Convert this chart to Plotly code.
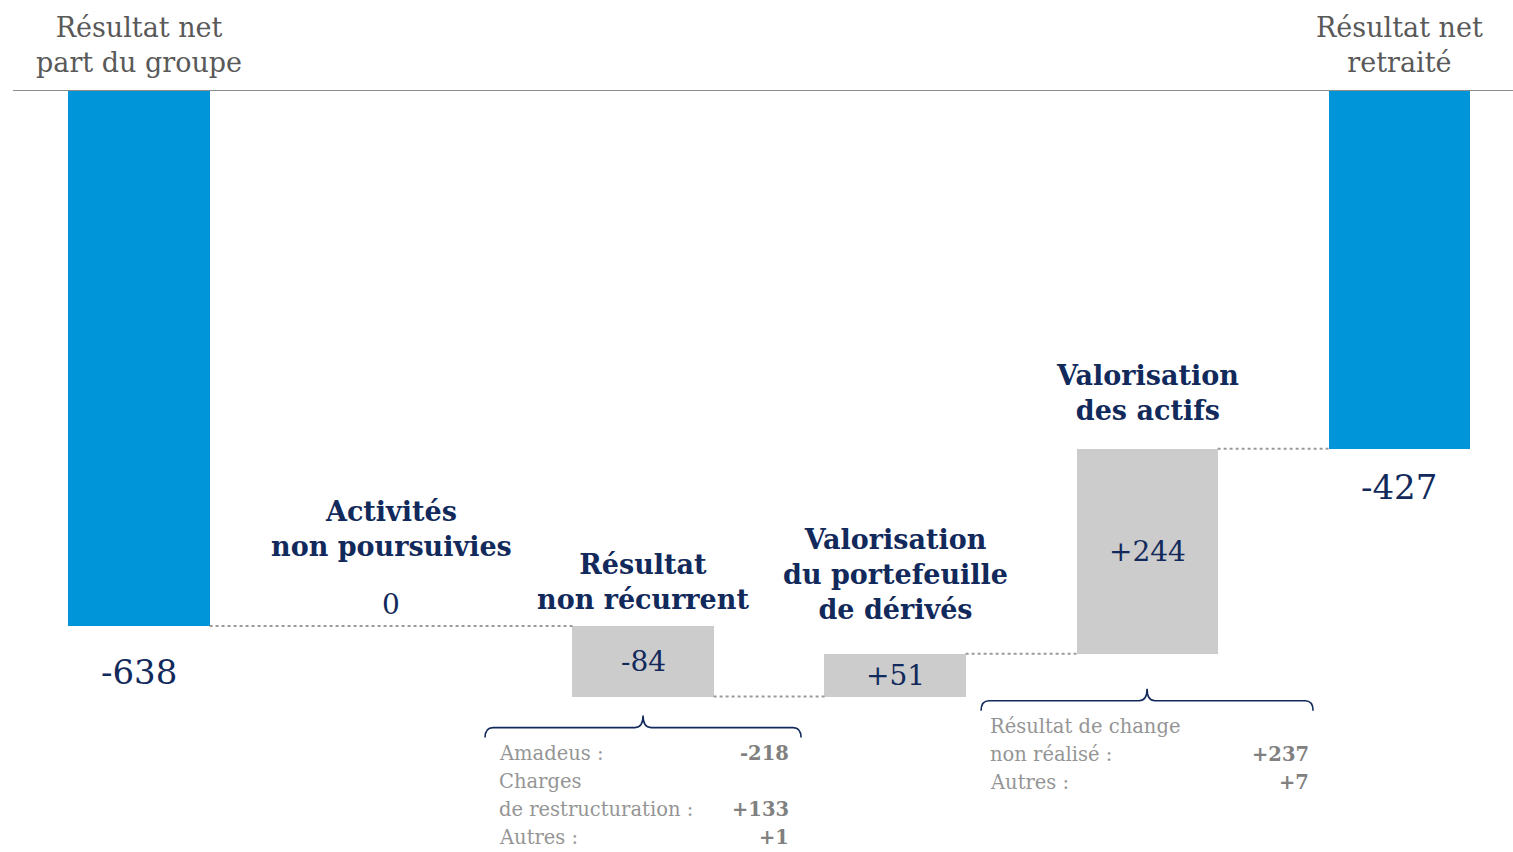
import plotly.graph_objects as go

# ---- data ----
categories = [
    "Résultat net<br>part du groupe",
    "Activités<br>non poursuivies",
    "Résultat<br>non récurrent",
    "Valorisation<br>du portefeuille<br>de dérivés",
    "Valorisation<br>des actifs",
    "Résultat net<br>retraité",
]
measures = ["total", "relative", "relative", "relative", "relative", "total"]
values = [-638, 0, -84, 51, 244, -427]
value_labels = ["-638", "0", "-84", "+51", "+244", "-427"]

recurrent_detail_labels = ["Amadeus :", "Charges", "de restructuration :", "Autres :"]
recurrent_detail_values = ["-218", "", "+133", "+1"]
actifs_detail_labels = ["Résultat de change", "non réalisé :", "Autres :"]
actifs_detail_values = ["", "+237", "+7"]

# ---- styling ----
BLUE = "#0094d9"
GREY_BAR = "#cccccc"
NAVY = "#12295b"
HEAD_GREY = "#595959"
NOTE_GREY = "#959595"
NOTE_NUM = "#808080"
FONT = "DejaVu Serif"

W, H = 1513, 852
M_L, M_R, M_T, M_B = 13, 0, 90, 0
X_RANGE = [-0.5, 5.452]
Y_RANGE = [-907, 0]
BAR_W = 0.56

# vertical gap (px) between the top of each step bar and its caption
CAPTION_GAP = [0, 62, 9, 27, 21, 0]
# vertical gap (px) between the bottom of each total bar and its value
VALUE_GAP = [24, 0, 0, 0, 0, 16]
NOTE_LINE = 28  # line spacing of the detail notes, px

plot_w = W - M_L - M_R
plot_h = H - M_T - M_B
DX = (X_RANGE[1] - X_RANGE[0]) / plot_w   # data units per pixel, x
DY = (Y_RANGE[1] - Y_RANGE[0]) / plot_h   # data units per pixel, y

# ---- waterfall geometry ----
bases, ends = [], []
running = 0
for m, v in zip(measures, values):
    if m == "total":
        b, e = 0, v
    else:
        b, e = running, running + v
    bases.append(b)
    ends.append(e)
    running = e
heights = [e - b for b, e in zip(bases, ends)]
colors = [BLUE if m == "total" else GREY_BAR for m in measures]
idx = list(range(len(values)))

fig = go.Figure()
fig.add_trace(go.Bar(
    x=idx, y=heights, base=bases, width=BAR_W,
    marker=dict(color=colors, line=dict(width=0)),
    hoverinfo="skip", showlegend=False,
))

# dotted connectors between consecutive visible bars
visible = [i for i in idx if heights[i] != 0]
cx, cy = [], []
for a, b in zip(visible[:-1], visible[1:]):
    cx += [a + BAR_W / 2, b - BAR_W / 2, None]
    cy += [ends[a], ends[a], None]
fig.add_trace(go.Scatter(
    x=cx, y=cy, mode="lines",
    line=dict(color="#9a9a9a", width=2, dash="dot"),
    hoverinfo="skip", showlegend=False,
))

ann = []
for i in idx:
    top = max(bases[i], ends[i])
    bottom = min(bases[i], ends[i])
    if measures[i] == "total":
        # header above the baseline, value under the bar
        ann.append(dict(x=i, y=1, xref="x", yref="paper", yanchor="bottom", yshift=10,
                        text=categories[i], showarrow=False,
                        font=dict(family=FONT, size=27, color=HEAD_GREY)))
        ann.append(dict(x=i, y=bottom, xref="x", yref="y", yanchor="top", yshift=-VALUE_GAP[i],
                        text=value_labels[i], showarrow=False,
                        font=dict(family=FONT, size=34, color=NAVY)))
    elif heights[i] == 0:
        ann.append(dict(x=i, y=top, xref="x", yref="y", yanchor="bottom", yshift=3,
                        text=value_labels[i], showarrow=False,
                        font=dict(family=FONT, size=28, color=NAVY)))
        ann.append(dict(x=i, y=top, xref="x", yref="y", yanchor="bottom", yshift=CAPTION_GAP[i],
                        text="<b>" + categories[i] + "</b>", showarrow=False,
                        font=dict(family=FONT, size=27, color=NAVY)))
    else:
        ann.append(dict(x=i, y=(bases[i] + ends[i]) / 2, xref="x", yref="y",
                        text=value_labels[i], showarrow=False,
                        font=dict(family=FONT, size=28, color=NAVY)))
        ann.append(dict(x=i, y=top, xref="x", yref="y", yanchor="bottom", yshift=CAPTION_GAP[i],
                        text="<b>" + categories[i] + "</b>", showarrow=False,
                        font=dict(family=FONT, size=27, color=NAVY)))


def brace_path(xc, half, y, drop=10, notch=12, r=8):
    """Curly-brace path (opening downward) in data coordinates; sizes in px."""
    xl, xr = xc - half * DX, xc + half * DX
    p = f"M {xl},{y - drop*DY} Q {xl},{y} {xl + r*DX},{y} "
    p += f"L {xc - r*DX},{y} Q {xc},{y} {xc},{y + notch*DY} "
    p += f"Q {xc},{y} {xc + r*DX},{y} L {xr - r*DX},{y} Q {xr},{y} {xr},{y - drop*DY}"
    return p


shapes = [dict(type="line", xref="paper", yref="y", x0=0, x1=1, y0=0, y1=0,
               line=dict(color="#8c8c8c", width=2))]


def detail_block(i, labels, nums, brace_gap, first_gap, half, left, right):
    y0 = min(bases[i], ends[i])
    yb = y0 - brace_gap * DY
    shapes.append(dict(type="path", xref="x", yref="y", path=brace_path(i, half, yb),
                       line=dict(color=NAVY, width=1.6)))
    for k, (lab, num) in enumerate(zip(labels, nums)):
        ys = -(first_gap + NOTE_LINE * k)
        ann.append(dict(x=i + left * DX, y=y0, xref="x", yref="y", xanchor="left",
                        yanchor="middle", yshift=ys, text=lab, showarrow=False, borderpad=0,
                        font=dict(family=FONT, size=19.5, color=NOTE_GREY)))
        if num:
            ann.append(dict(x=i + right * DX, y=y0, xref="x", yref="y", xanchor="right",
                            yanchor="middle", yshift=ys, text="<b>" + num + "</b>",
                            showarrow=False, borderpad=0,
                            font=dict(family=FONT, size=19.5, color=NOTE_NUM)))


detail_block(2, recurrent_detail_labels, recurrent_detail_values,
             brace_gap=31, first_gap=57, half=158, left=-145, right=147)
detail_block(4, actifs_detail_labels, actifs_detail_values,
             brace_gap=47, first_gap=73, half=166, left=-158, right=163)

fig.update_layout(
    width=W, height=H,
    margin=dict(l=M_L, r=M_R, t=M_T, b=M_B, pad=0),
    paper_bgcolor="white", plot_bgcolor="white",
    xaxis=dict(range=X_RANGE, visible=False, fixedrange=True),
    yaxis=dict(range=Y_RANGE, visible=False, fixedrange=True),
    annotations=ann, shapes=shapes,
    bargap=0,
)

fig.write_html("out.html", config={"displayModeBar": False})
